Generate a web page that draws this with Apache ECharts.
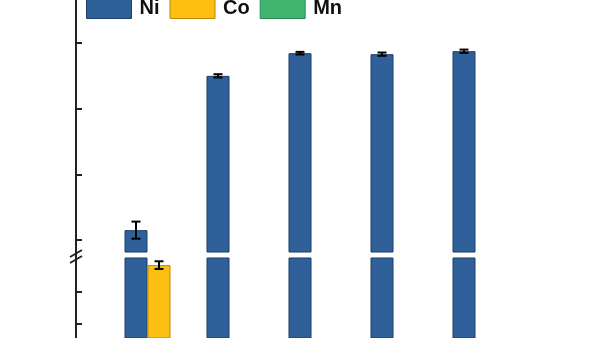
<!DOCTYPE html>
<html>
<head>
<meta charset="utf-8">
<script src="https://cdn.jsdelivr.net/npm/echarts@6/dist/echarts.min.js"></script>
<style>
  html, body { margin: 0; padding: 0; background: #ffffff; }
  #chart { width: 600px; height: 338px; }
</style>
</head>
<body>
<div id="chart"></div>
<script>
// ---- data (axis has no printed labels) ----
const categories = ['S1', 'S2', 'S3', 'S4', 'S5'];
const seriesNames = ['Ni', 'Co', 'Mn'];
const niValues = [23.0, 70.0, 76.9, 76.6, 77.5];
const niErrors = [2.6, 0.5, 0.4, 0.5, 0.5];
const coValues = [14.2, '-', '-', '-', '-'];
const coErrors = [0.6, null, null, null, null];
const mnValues = ['-', '-', '-', '-', '-'];
const upperTicks = [20, 40, 60, 80];
const lowerTicks = [5, 10];
const upperRange = [16.345, 93.1];
const lowerRange = [2.8125, 15.3125];

// ---- styles ----
const colors = { Ni: '#2f6099', Co: '#fdbf12', Mn: '#41b56f' };
const borders = { Ni: '#1d3e66', Co: '#b98800', Mn: '#2a8a50' };
const BAR_W = 23;
const axisColor = '#222';

function errData(vals, errs) {
  const out = [];
  vals.forEach((v, i) => {
    if (typeof v === 'number' && errs[i] != null) out.push([i, v, errs[i]]);
  });
  return out;
}

function errorSeries(name, vals, errs, slotOffset, gridIdx) {
  return {
    type: 'custom',
    name: name + '-err-' + gridIdx,
    xAxisIndex: gridIdx,
    yAxisIndex: gridIdx,
    z: 10,
    silent: true,
    encode: { x: 0, y: 1 },
    data: errData(vals, errs),
    renderItem: function (params, api) {
      const cat = api.value(0), v = api.value(1), e = api.value(2);
      const c = api.coord([cat, v]);
      const cs = params.coordSys;
      if (c[1] < cs.y || c[1] > cs.y + cs.height) return null;
      const x = c[0] + slotOffset;
      const yt = api.coord([cat, v + e])[1];
      const yb = api.coord([cat, v - e])[1];
      const hw = 4.5;
      const st = { stroke: '#000', lineWidth: 2 };
      return {
        type: 'group',
        children: [
          { type: 'line', shape: { x1: x, y1: yt, x2: x, y2: yb }, style: st },
          { type: 'line', shape: { x1: x - hw, y1: yt, x2: x + hw, y2: yt }, style: st },
          { type: 'line', shape: { x1: x - hw, y1: yb, x2: x + hw, y2: yb }, style: st }
        ]
      };
    }
  };
}

function barSeries(name, vals, gridIdx) {
  return {
    type: 'bar',
    name: name,
    xAxisIndex: gridIdx,
    yAxisIndex: gridIdx,
    data: vals,
    barWidth: BAR_W,
    barGap: '0%',
    clip: true,
    itemStyle: { color: colors[name], borderColor: borders[name], borderWidth: 1 }
  };
}

const valueLists = { Ni: niValues, Co: coValues, Mn: mnValues };
const series = [];
[0, 1].forEach(g => {
  seriesNames.forEach(n => series.push(barSeries(n, valueLists[n], g)));
  series.push(errorSeries('Ni', niValues, niErrors, -BAR_W, g));
  series.push(errorSeries('Co', coValues, coErrors, 0, g));
});

function yAxisDef(gridIdx, range, ticks) {
  return {
    type: 'value',
    gridIndex: gridIdx,
    min: range[0],
    max: range[1],
    offset: 42,
    axisLine: { show: true, lineStyle: { color: axisColor, width: 2 } },
    axisTick: { show: true, inside: true, length: 6, lineStyle: { color: axisColor, width: 2 }, customValues: ticks },
    axisLabel: { show: false, customValues: ticks },
    splitLine: { show: false }
  };
}

const option = {
  backgroundColor: '#ffffff',
  animation: false,
  legend: {
    data: seriesNames,
    icon: 'rect',
    left: 86,
    top: -2,
    padding: 0,
    itemWidth: 45,
    itemHeight: 20,
    itemGap: 10,
    itemStyle: { borderWidth: 1 },
    textStyle: { fontSize: 20, fontWeight: 'bold', color: '#111', fontFamily: 'Liberation Sans, Arial, sans-serif', padding: [0, 0, 0, 3] }
  },
  grid: [
    { left: 118, right: 72, top: 0, height: 252 },
    { left: 118, right: 72, top: 258, height: 80 }
  ],
  xAxis: [
    { type: 'category', gridIndex: 0, data: categories, show: false },
    { type: 'category', gridIndex: 1, data: categories, show: false }
  ],
  yAxis: [
    yAxisDef(0, upperRange, upperTicks),
    yAxisDef(1, lowerRange, lowerTicks)
  ],
  graphic: [
    { type: 'line', shape: { x1: 76, y1: 251, x2: 76, y2: 259 }, style: { stroke: axisColor, lineWidth: 2 }, z: 20 },
    { type: 'line', shape: { x1: 70, y1: 257, x2: 82, y2: 250 }, style: { stroke: axisColor, lineWidth: 2 }, z: 21 },
    { type: 'line', shape: { x1: 70, y1: 263, x2: 82, y2: 256 }, style: { stroke: axisColor, lineWidth: 2 }, z: 21 }
  ],
  series: series
};

const chart = echarts.init(document.getElementById('chart'), null, { renderer: 'canvas' });
chart.setOption(option);
</script>
</body>
</html>
